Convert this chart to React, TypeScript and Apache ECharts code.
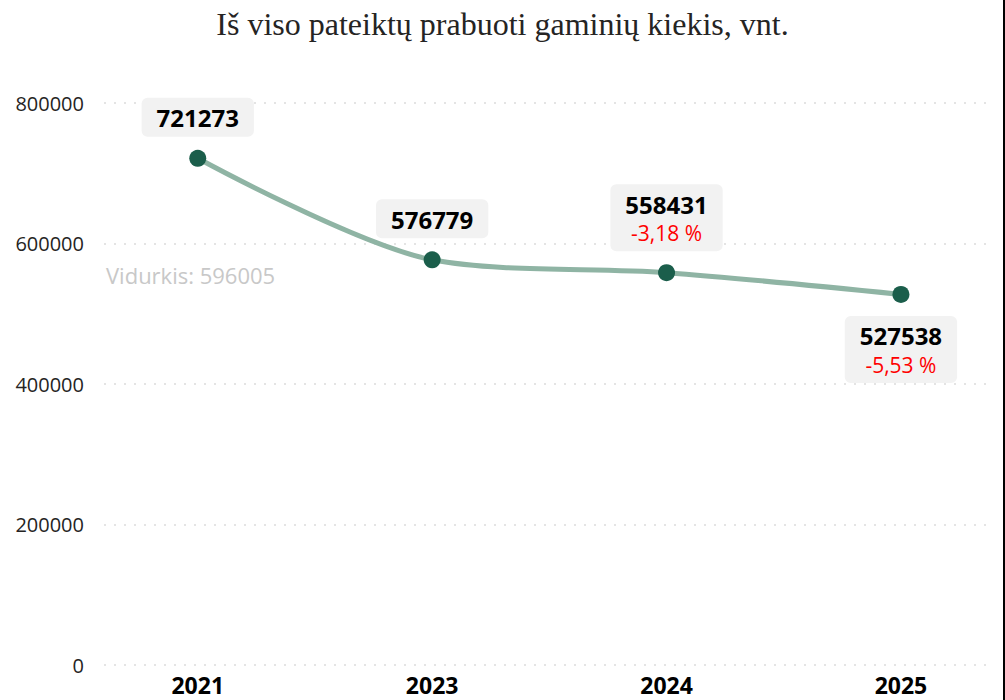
import React, { useEffect, useRef } from "react";
import * as echarts from "echarts";

const years = ["2021", "2023", "2024", "2025"];
const values = [721273, 576779, 558431, 527538];
const changes: (number | null)[] = [null, null, -3.18, -5.53];
const labelPositions = ["top", "top", "top", "bottom"];
const yTicks = { min: 0, max: 800000, interval: 200000 };

const SANS = "'Open Sans', 'Noto Sans', sans-serif";

export default function App() {
  const ref = useRef<HTMLDivElement>(null);
  useEffect(() => {
    if (!ref.current) return;
    const chart = echarts.init(ref.current, undefined, { renderer: "svg" });
    const fmtPct = (c: number) => c.toFixed(2).replace(".", ",") + " %";
    chart.setOption({
      animation: false,
      backgroundColor: "#ffffff",
      title: {
        text: "Iš viso pateiktų prabuoti gaminių kiekis, vnt.",
        left: "center",
        top: 3,
        textStyle: {
          fontFamily: "'Liberation Serif', 'Times New Roman', serif",
          fontSize: 32,
          fontWeight: "normal",
          color: "#252423",
        },
      },
      grid: { left: 104, right: 15, top: 103, bottom: 35 },
      xAxis: {
        type: "value",
        min: -0.4,
        max: 3.38,
        axisLine: { show: false },
        axisTick: { show: false },
        splitLine: { show: false },
        axisLabel: {
          customValues: [0, 1, 2, 3],
          formatter: (v: number) => years[Math.round(v)] ?? "",
          fontFamily: SANS,
          fontWeight: "bold",
          fontSize: 23,
          lineHeight: 20,
          color: "#000000",
          margin: 10,
        },
      },
      yAxis: {
        type: "value",
        min: yTicks.min,
        max: yTicks.max,
        interval: yTicks.interval,
        axisLine: { show: false },
        axisTick: { show: false },
        axisLabel: {
          formatter: (v: number) => String(v),
          fontFamily: SANS,
          fontSize: 20,
          color: "#252423",
          margin: 20,
        },
        splitLine: {
          lineStyle: { color: "#e4e4e4", width: 2, type: [2, 8] },
        },
      },
      series: [
        {
          type: "line",
          data: values.map((v, i) => ({
            value: [i, v],
            label: { position: labelPositions[i] },
          })),
          smooth: 0.3,
          symbol: "circle",
          symbolSize: 17,
          lineStyle: { color: "#8fb4a4", width: 5 },
          itemStyle: { color: "#1b5e4b" },
          labelLayout: { hideOverlap: false },
          label: {
            show: true,
            distance: 13,
            backgroundColor: "#f2f2f2",
            borderRadius: 6,
            padding: [5, 15, 4, 15],
            align: "center",
            formatter: (p: any) => {
              const c = changes[p.dataIndex];
              const v = `{v|${p.value[1]}}`;
              return c == null ? v : `${v}\n{p|${fmtPct(c)}}`;
            },
            rich: {
              v: {
                fontFamily: SANS,
                fontWeight: "bold",
                fontSize: 24,
                color: "#000000",
                lineHeight: 30,
                align: "center",
              },
              p: {
                fontFamily: SANS,
                fontSize: 21,
                color: "#ff0000",
                lineHeight: 28,
                align: "center",
              },
            },
          },
          emphasis: { disabled: true },
          markLine: {
            silent: true,
            symbol: "none",
            data: [{ type: "average" }],
            lineStyle: { color: "rgba(0,0,0,0)", width: 1 },
            label: {
              show: true,
              position: "insideStartBottom",
              distance: [2, 18],
              formatter: (p: any) => "Vidurkis: " + Math.round(p.value),
              fontFamily: SANS,
              fontSize: 22,
              color: "#c8c8c8",
            },
          },
        },
      ],
      graphic: [
        {
          type: "rect",
          x: 1003,
          y: 0,
          shape: { width: 2, height: 700 },
          style: { fill: "#000000" },
          silent: true,
        },
      ],
    });
    return () => chart.dispose();
  }, []);
  return (
    <div
      ref={ref}
      style={{ position: "absolute", left: 0, top: 0, width: 1005, height: 700 }}
    />
  );
}
